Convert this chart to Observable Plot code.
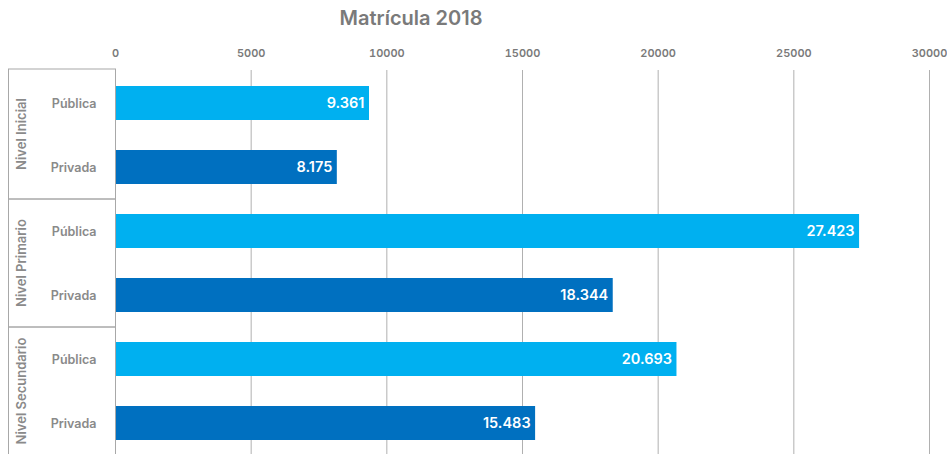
<!DOCTYPE html>
<html><head><meta charset="utf-8">
<script src="https://cdn.jsdelivr.net/npm/d3@7"></script>
<script src="https://cdn.jsdelivr.net/npm/@observablehq/plot@0.6"></script>
<style>
body{margin:0;background:#fff;font-family:Inter,sans-serif;}
#title{position:relative;height:36px;}
#title span{position:absolute;left:411px;top:50%;transform:translate(-50%,-50%);font-size:20px;font-weight:600;color:#7a7a7a;white-space:nowrap;}
</style></head><body>
<div id="title"><span>Matrícula 2018</span></div>
<div id="chart"></div>
<script>
const niveles = ["Nivel Inicial", "Nivel Primario", "Nivel Secundario"];
const sectores = ["Pública", "Privada"];
const publica = [9361, 27423, 20693];
const privada = [8175, 18344, 15483];
const xTicks = [0, 5000, 10000, 15000, 20000, 25000, 30000];
const colores = ["#00b0f0", "#0070c0"];

const rows = [];
niveles.forEach((n, i) => {
  rows.push({nivel: n, sector: sectores[0], valor: publica[i], key: n + "|" + sectores[0]});
  rows.push({nivel: n, sector: sectores[1], valor: privada[i], key: n + "|" + sectores[1]});
});
const keys = rows.map(d => d.key);
const fmt = d3.formatLocale({thousands: ".", decimal: ",", grouping: [3], currency: ["", ""]}).format(",");

const plot = Plot.plot({
  width: 947,
  height: 418,
  marginLeft: 115,
  marginRight: 18,
  marginTop: 34,
  marginBottom: -2,
  style: {fontFamily: "Inter, sans-serif", background: "white"},
  x: {domain: [0, 30000]},
  y: {domain: keys, range: [35, 419], paddingInner: 0.47, paddingOuter: 0.235},
  color: {domain: sectores, range: colores},
  marks: [
    Plot.gridX(xTicks, {stroke: "#b0b0b0", strokeOpacity: 1}),
    Plot.barX(rows, {x: "valor", y: "key", fill: "sector"}),
    Plot.text(rows, {x: "valor", y: "key", text: d => fmt(d.valor), textAnchor: "end", dx: -5, fill: "white", fontSize: 14.5, fontWeight: 600}),
    Plot.axisX(xTicks, {anchor: "top", tickSize: 0, tickPadding: 14, fontSize: 11, fontWeight: 600, fill: "#7a7a7a", label: null, tickFormat: d => String(d)}),
    Plot.axisY({anchor: "left", tickSize: 0, tickPadding: 19, fontSize: 12.5, fontWeight: 600, fill: "#8a8a8a", label: null, tickFormat: k => k.split("|")[1]})
  ]
});
document.getElementById("chart").appendChild(plot);

// Group boxes and rotated group labels, positioned from Plot's y scale
const ys = plot.scale("y");
const bw = ys.bandwidth;
const step = ys.step;
const gap = step - bw;
const svg = d3.select(plot);
const g = svg.append("g");
const boxLeft = 8.5, boxRight = 115.5;
niveles.forEach((n, i) => {
  const groupKeys = keys.filter(k => k.startsWith(n + "|"));
  const top = ys.apply(groupKeys[0]) - gap / 2 - (i === 0 ? 2 : 0);
  const bottom = ys.apply(groupKeys[groupKeys.length - 1]) + bw + gap / 2;
  g.append("rect").attr("x", boxLeft).attr("y", top).attr("width", boxRight - boxLeft).attr("height", bottom - top)
    .attr("fill", "none").attr("stroke", "#a8a8a8").attr("stroke-width", 1);
  g.append("text").attr("transform", `translate(22,${(top + bottom) / 2}) rotate(-90)`)
    .attr("text-anchor", "middle").attr("dominant-baseline", "middle")
    .attr("font-size", 13).attr("font-weight", 600).attr("fill", "#8a8a8a").text(n);
});
</script>
</body></html>
